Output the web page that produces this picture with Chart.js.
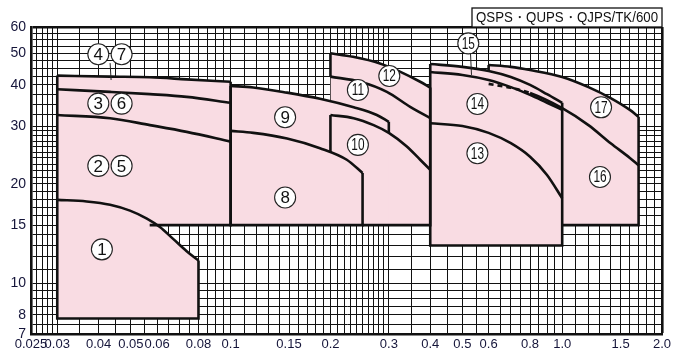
<!DOCTYPE html>
<html>
<head>
<meta charset="utf-8">
<script src="https://cdn.jsdelivr.net/npm/chart.js@4.4.0/dist/chart.umd.min.js"></script>
<style>
  html, body { margin:0; padding:0; background:#fff; }
  #wrap { width:689px; height:355px; }
</style>
</head>
<body>
<div id="wrap"><canvas id="c" width="689" height="355"></canvas></div>
<script>
/* Pump selection chart: flow (m3/min, log) vs total head (m, log).
 * One pink operating field per pump family, black performance curves. */

const FONT = "'Liberation Sans', Arial, sans-serif";
const C = { pink:"#f9dce3", ink:"#111", text:"#15153a" };

/* ---------- axis ticks ---------- */
const xTickVals = [0.025, 0.03, 0.04, 0.05, 0.06, 0.08, 0.1, 0.15, 0.2, 0.3, 0.4, 0.5, 0.6, 0.8, 1.0, 1.5, 2.0];
const xTickText = ["0.025","0.03","0.04","0.05","0.06","0.08","0.1","0.15","0.2","0.3","0.4","0.5","0.6","0.8","1.0","1.5","2.0"];
const yTickVals = [7, 8, 10, 15, 20, 30, 40, 50, 60];
const yTickText = ["7","8","10","15","20","30","40","50","60"];

// grid lines of the printed log paper
const xGrid = [];
for (let i = 25; i < 30; i++) xGrid.push(i / 1000);
for (let i = 30; i < 100; i += 5) xGrid.push(i / 1000);
for (let i = 10; i < 30; i++) xGrid.push(i / 100);
xGrid.push(0.3, 0.35);
for (let i = 40; i < 100; i += 5) xGrid.push(i / 100);
for (let i = 10; i <= 20; i++) xGrid.push(i / 10);
const yGrid = [];
for (let i = 14; i < 20; i++) yGrid.push(i / 2);
for (let i = 10; i < 30; i++) yGrid.push(i);
for (let i = 12; i <= 24; i++) yGrid.push(i * 2.5);

/* ---------- performance curves (Q m3/min, H m) ---------- */
const q1  = [0.03, 0.0368, 0.0433, 0.0497, 0.0559, 0.0612, 0.0672, 0.0737, 0.08];
const h1  = [17.9, 17.7, 17.3, 16.6, 15.7, 14.8, 13.6, 12.5, 11.7];
const qA  = [0.03, 0.0433, 0.0571, 0.0737, 0.1];
const h25 = [32.4, 31.7, 30.2, 28.8, 26.9];
const h36 = [38.8, 38.1, 37.5, 36.8, 35.3];
const h47 = [42.7, 42.4, 42.2, 41.6, 40.9];
const q8  = [0.1, 0.117, 0.148, 0.186, 0.224, 0.25];
const h8  = [29.0, 28.6, 27.5, 25.7, 23.7, 21.6];
const q9  = [0.1, 0.117, 0.148, 0.186, 0.235, 0.276, 0.3];
const h9  = [39.7, 39.3, 37.9, 36.3, 34.2, 32.4, 30.9];
const q10 = [0.2, 0.235, 0.27, 0.3, 0.34, 0.373, 0.4];
const h10 = [32.4, 31.7, 30.2, 28.6, 26.0, 23.7, 22.1];
const q11 = [0.2, 0.246, 0.296, 0.348, 0.4];
const h11 = [42.4, 40.9, 38.1, 34.3, 31.7];
const q12 = [0.2, 0.234, 0.282, 0.324, 0.373, 0.4];
const h12 = [49.9, 48.7, 46.5, 43.9, 40.9, 39.3];
const qD  = [0.4, 0.5, 0.6, 0.7, 0.8, 0.9, 1.0];
const h13 = [30.6, 30.0, 28.6, 26.6, 24.2, 21.3, 18.1];
const h14 = [43.8, 42.9, 41.4, 39.4, 37.3, 35.3, 33.6];
const h15 = [46.3, 45.4, 44.1, 42.3, 40.0, 37.5, 35.3];
const qE  = [0.6, 0.7, 0.8, 1.0, 1.2, 1.4, 1.6, 1.7];
const h16 = [40.3, 39.2, 37.8, 34.0, 30.2, 26.6, 24.0, 22.8];
const h17 = [46.0, 45.4, 44.4, 42.3, 39.4, 36.5, 33.6, 32.0];

/* ---------- operating fields: [Qmin, Qmax, Hbottom] ---------- */
const field1 = [0.03, 0.08, 7.8];
const fieldA = [0.03, 0.1, 15];
const fieldB = [0.1, 0.3, 15];
const fieldC = [0.2, 0.4, 15];
const fieldD = [0.4, 1.0, 13];
const fieldE = [0.6, 1.7, 15];
// where field 1's curve drops through 15 m, and field 8's curve meets Q = 0.2
const q1At15 = 0.057;
const h8At02 = 25.0;

/* ---------- circled model numbers ---------- */
const tagText = ["1","2","5","3","6","4","7","8","9","10","11","12","13","14","15","16","17"];
const tagQ    = [0.0409,0.0399,0.0469,0.0399,0.0469,0.0399,0.0469,0.146,0.146,0.242,0.242,0.301,0.555,0.555,0.521,1.30,1.31];
const tagH    = [12.66,22.7,22.7,35.1,35.1,49.6,49.6,18.2,31.9,26.3,38.6,42.6,24.8,35.0,53.5,21.0,34.2];
// leader lines from a tag to its curve: [Q, Hfrom, Hto]
const leader47 = [0.0433, 46.6, 41.4];
const leader15 = [0.529, 50.0, 42.9];

const TITLE = "QSPS・QUPS・QJPS/TK/600";

/* ---------- datasets ---------- */
const pts = (q, h) => q.map((v, i) => ({ x:v, y:h[i] }));
const curve = (q, h, extra) => Object.assign({
  data:pts(q, h), borderColor:C.ink, borderWidth:2.6, pointRadius:0,
  cubicInterpolationMode:"monotone", fill:false
}, extra || {});
const edge = p => ({ data:p.map(([x, y]) => ({ x, y })), borderColor:C.ink, borderWidth:2.6, pointRadius:0, tension:0, fill:false });
const field = (q, h, f) => ({
  data:pts(q, h), borderWidth:0, borderColor:"rgba(0,0,0,0)", pointRadius:0,
  cubicInterpolationMode:"monotone", backgroundColor:C.pink, fill:{ value:f[2] }
});
const box = (f, hL, hR) => edge([[f[0], hL], [f[0], f[2]], [f[1], f[2]], [f[1], hR]]);
const last = a => a[a.length - 1];

const datasets = [
  field(q1, h1, field1), field(qA, h47, fieldA), field(q9, h9, fieldB),
  field(q12, h12, fieldC), field(qD, h15, fieldD), field(qE, h17, fieldE),

  box(field1, h1[0], last(h1)),
  edge([[fieldA[0], h47[0]], [fieldA[0], h1[0]]]),
  edge([[q1At15, fieldA[2]], [fieldA[1], fieldA[2]], [fieldA[1], last(h47)]]),
  edge([[fieldB[0], h9[0]], [fieldB[0], fieldB[2]], [last(q8), fieldB[2]], [last(q8), last(h8)]]),
  edge([[fieldB[1], last(h9)], [fieldB[1], h10[3]]]),
  edge([[fieldC[0], h11[0]], [fieldC[0], h12[0]]]),
  edge([[fieldC[0], h8At02], [fieldC[0], h10[0]]]),
  edge([[last(q8), fieldC[2]], [fieldC[1], fieldC[2]], [fieldC[1], last(h12)]]),
  box(fieldD, h15[0], last(h15)),
  edge([[fieldE[0], h15[2]], [fieldE[0], h17[0]]]),
  edge([[fieldE[1], last(h17)], [fieldE[1], fieldE[2]], [fieldD[1], fieldE[2]]]),

  curve(q1, h1), curve(qA, h25), curve(qA, h36), curve(qA, h47),
  curve(q8, h8), curve(q9, h9), curve(q10, h10), curve(q11, h11), curve(q12, h12),
  curve(qD, h13), curve(qD, h14), curve(qD, h15),
  curve(qE, h16, { segment:{ borderDash: c => c.p1.parsed.x <= 0.8 ? [5,4] : undefined } }),
  curve(qE, h17),
];

/* ---------- overlays: tags, leaders, title box ---------- */
const overlay = {
  id:"overlay",
  afterDraw(chart){
    const { ctx, chartArea:a } = chart;
    const xs = chart.scales.x, ys = chart.scales.y;
    ctx.save();
    ctx.strokeStyle = "#222"; ctx.lineWidth = 1;
    for (const l of [leader47, leader15]){
      const px = xs.getPixelForValue(l[0]);
      ctx.beginPath(); ctx.moveTo(px, ys.getPixelForValue(l[1])); ctx.lineTo(px + 1, ys.getPixelForValue(l[2])); ctx.stroke();
    }
    tagText.forEach((t, i) => {
      const px = xs.getPixelForValue(tagQ[i]), py = ys.getPixelForValue(tagH[i]);
      ctx.beginPath(); ctx.arc(px, py, 10.5, 0, Math.PI * 2);
      ctx.fillStyle = "#fff"; ctx.fill();
      ctx.lineWidth = 1.1; ctx.strokeStyle = "#222"; ctx.stroke();
      ctx.fillStyle = "#111"; ctx.textAlign = "center"; ctx.textBaseline = "middle";
      if (t.length > 1){
        ctx.save(); ctx.translate(px, py + 1); ctx.scale(0.74, 1);
        ctx.font = `16px ${FONT}`; ctx.fillText(t, 0, 0); ctx.restore();
      } else {
        ctx.font = `17px ${FONT}`; ctx.fillText(t, px, py + 1);
      }
    });
    // model-series title in a box sitting on the plot frame
    ctx.font = `14px ${FONT}`;
    const w = Math.min(ctx.measureText(TITLE).width, 182) + 8;
    const bx = a.right - w, by = a.top - 19;
    ctx.fillStyle = "#fff"; ctx.fillRect(bx, by, w, 19);
    ctx.strokeStyle = "#111"; ctx.lineWidth = 1.3; ctx.strokeRect(bx, by, w, 19);
    ctx.fillStyle = "#111"; ctx.textAlign = "center"; ctx.textBaseline = "middle";
    ctx.fillText(TITLE, bx + w / 2, by + 10, 182);
    ctx.restore();
  }
};

const pick = (vals, text) => v => { const i = vals.findIndex(t => Math.abs(t - v) < 1e-9); return i < 0 ? "" : text[i]; };

new Chart(document.getElementById("c"), {
  type:"line",
  data:{ datasets },
  plugins:[overlay],
  options:{
    responsive:false, animation:false, devicePixelRatio:1,
    layout:{ padding:{ top:27, right:27, left:0, bottom:0 } },
    plugins:{ legend:{ display:false }, tooltip:{ enabled:false }, filler:{ drawTime:"beforeDatasetsDraw" } },
    scales:{
      x:{
        type:"logarithmic", min:0.025, max:2.0, z:1,
        afterBuildTicks: s => { s.ticks = xGrid.map(v => ({ value:v })); },
        afterFit: s => { s.height = 21; },
        grid:{ color:C.ink, drawTicks:false, lineWidth: c => (c.tick && c.tick.value === 2) ? 2.6 : 1 },
        border:{ color:C.ink, width:2.6 },
        ticks:{ autoSkip:false, maxRotation:0, minRotation:0, padding:3, color:C.text,
                font:{ family:FONT, size:13 }, callback: pick(xTickVals, xTickText) }
      },
      y:{
        type:"logarithmic", min:7, max:60, z:1,
        afterBuildTicks: s => { s.ticks = yGrid.map(v => ({ value:v })); },
        afterFit: s => { s.width = 31; },
        grid:{ color:C.ink, drawTicks:false, lineWidth: c => (c.tick && c.tick.value === 60) ? 2.6 : 1 },
        border:{ color:C.ink, width:2.6 },
        ticks:{ autoSkip:false, padding:5, color:C.text,
                font:{ family:FONT, size:14 }, callback: pick(yTickVals, yTickText) }
      }
    }
  }
});
</script>
</body>
</html>
